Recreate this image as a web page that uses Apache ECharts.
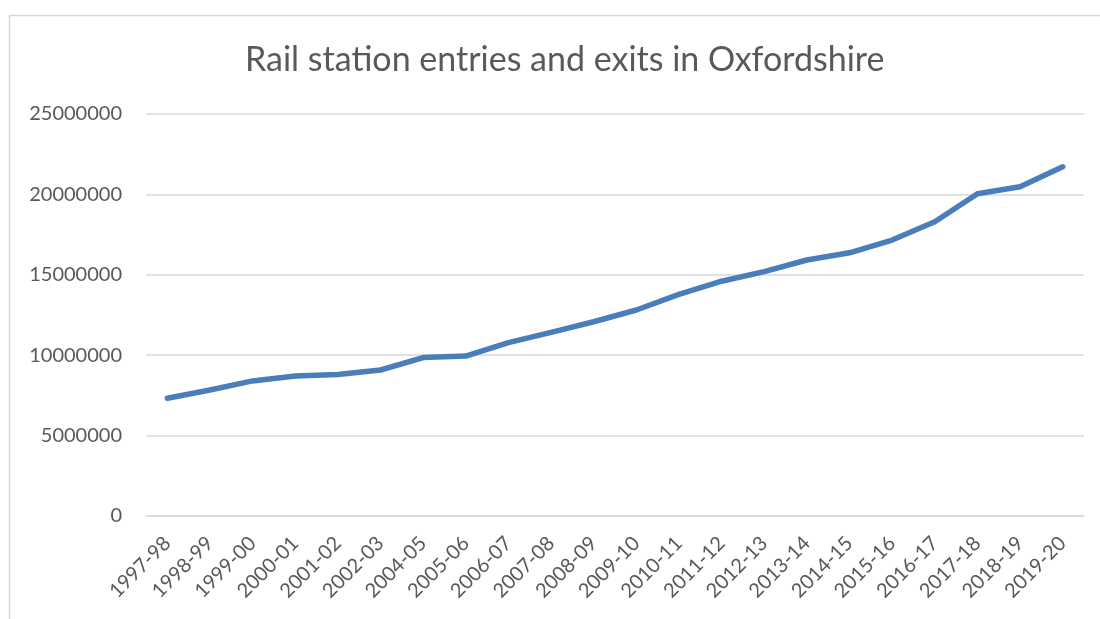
<!DOCTYPE html>
<html>
<head>
<meta charset="utf-8">
<title>Rail station entries and exits in Oxfordshire</title>
<script src="https://cdn.jsdelivr.net/npm/echarts@6/dist/echarts.min.js"></script>
<style>
  html, body { margin: 0; padding: 0; background: #fff; }
  #chart { width: 1100px; height: 619px; }
</style>
</head>
<body>
<div id="chart"></div>
<script>
const years = [
  '1997-98', '1998-99', '1999-00', '2000-01', '2001-02', '2002-03',
  '2004-05', '2005-06', '2006-07', '2007-08', '2008-09', '2009-10',
  '2010-11', '2011-12', '2012-13', '2013-14', '2014-15', '2015-16',
  '2016-17', '2017-18', '2018-19', '2019-20',
]
const entriesExits = [
  7320000, 7840000, 8400000, 8700000, 8800000, 9080000,
  9850000, 9950000, 10780000, 11420000, 12080000, 12810000,
  13780000, 14600000, 15200000, 15920000, 16370000, 17160000,
  18300000, 20040000, 20480000, 21720000,
]
const yTicks = { min: 0, max: 25000000, step: 5000000 }

const grey = '#595959'
const gridGrey = '#d9d9d9'
const font = 'Lato, "Open Sans", sans-serif'

const option = {
  animation: false,
  backgroundColor: '#fff',
  title: {
    text: 'Rail station entries and exits in Oxfordshire',
    left: 240,
    top: 38,
    textStyle: {
      color: grey,
      fontFamily: font,
      fontWeight: 'normal',
      fontSize: 34,
    },
  },
  graphic: [
    {
      type: 'rect',
      shape: { x: 9.5, y: 15.5, width: 1200, height: 700 },
      style: { fill: 'none', stroke: gridGrey, lineWidth: 1.5 },
      silent: true,
    },
  ],
  grid: {
    left: 146,
    right: 16,
    top: 114,
    bottom: 103,
  },
  xAxis: {
    type: 'category',
    data: years,
    boundaryGap: true,
    axisLine: { show: true, lineStyle: { color: gridGrey, width: 1.5 } },
    axisTick: { show: false },
    axisLabel: {
      rotate: 45,
      color: grey,
      fontFamily: font,
      fontSize: 20,
      margin: 24,
      interval: 0,
    },
  },
  yAxis: {
    type: 'value',
    min: yTicks.min,
    max: yTicks.max,
    interval: yTicks.step,
    axisLine: { show: false },
    axisTick: { show: false },
    axisLabel: {
      color: grey,
      fontFamily: font,
      fontSize: 20,
      margin: 24,
      formatter: (v) => String(v),
    },
    splitLine: { lineStyle: { color: gridGrey, width: 1.5 } },
  },
  series: [
    {
      name: 'Entries and exits',
      type: 'line',
      data: entriesExits,
      showSymbol: false,
      lineStyle: { color: '#4a7ebb', width: 5.5, cap: 'round', join: 'round' },
      itemStyle: { color: '#4a7ebb' },
    },
  ],
}

const myChart = echarts.init(document.getElementById('chart'))
myChart.setOption(option)
</script>
</body>
</html>
